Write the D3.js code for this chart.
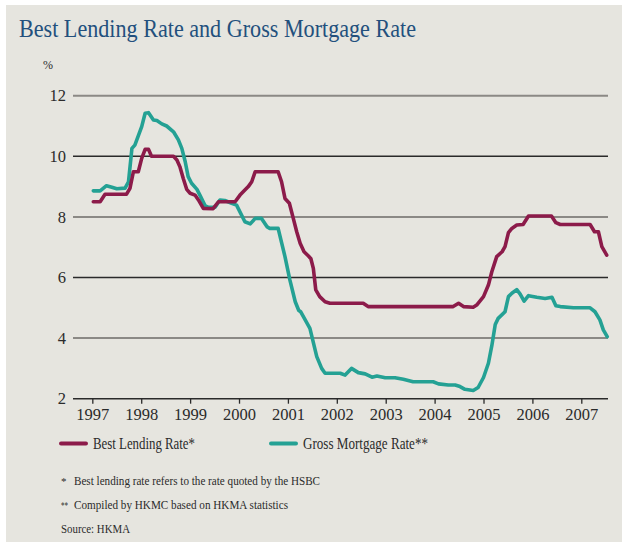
<!DOCTYPE html>
<html>
<head>
<meta charset="utf-8">
<script src="https://cdn.jsdelivr.net/npm/d3@7"></script>
<style>
  html, body { margin: 0; padding: 0; background: #ffffff; }
  svg { display: block; }
  text { font-family: "Liberation Serif", "DejaVu Serif", serif; }
</style>
</head>
<body>
<svg id="chart" width="622" height="542"></svg>
<script>
// ---- Data ----
const titleText = "Best Lending Rate and Gross Mortgage Rate";
const yearTicks = [1997, 1998, 1999, 2000, 2001, 2002, 2003, 2004, 2005, 2006, 2007];
const rateTicks = [2, 4, 6, 8, 10, 12];
const seriesNames = ["Best Lending Rate*", "Gross Mortgage Rate**"];
const footnotes = [
  ["*", "Best lending rate refers to the rate quoted by the HSBC"],
  ["**", "Compiled by HKMC based on HKMA statistics"]
];
const sourceText = "Source: HKMA";

const blrYears = [1997.02, 1997.16, 1997.26, 1997.70, 1997.77, 1997.84, 1997.94, 1998.01, 1998.08, 1998.15,
  1998.21, 1998.66, 1998.73, 1998.79, 1998.86, 1998.93, 1999.00, 1999.10, 1999.17, 1999.27,
  1999.47, 1999.58, 1999.92, 2000.02, 2000.19, 2000.26, 2000.33, 2000.80, 2000.87, 2000.94,
  2001.03, 2001.11, 2001.18, 2001.25, 2001.33, 2001.42, 2001.47, 2001.52, 2001.57, 2001.65,
  2001.76, 2001.86, 2002.54, 2002.64, 2004.38, 2004.49, 2004.59, 2004.79, 2004.86, 2005.00,
  2005.10, 2005.17, 2005.27, 2005.38, 2005.44, 2005.51, 2005.58, 2005.68, 2005.81, 2005.92,
  2006.39, 2006.48, 2006.57, 2007.18, 2007.27, 2007.35, 2007.42, 2007.52];
const blrRates = [8.50, 8.50, 8.75, 8.75, 8.94, 9.49, 9.49, 9.93, 10.23, 10.23,
  10.00, 10.00, 9.88, 9.66, 9.27, 8.91, 8.78, 8.72, 8.56, 8.28,
  8.27, 8.50, 8.50, 8.72, 9.00, 9.16, 9.49, 9.49, 9.16, 8.61,
  8.45, 7.95, 7.51, 7.13, 6.85, 6.71, 6.62, 6.30, 5.59, 5.37,
  5.20, 5.15, 5.15, 5.04, 5.04, 5.15, 5.04, 5.02, 5.09, 5.37,
  5.75, 6.19, 6.69, 6.85, 7.02, 7.48, 7.62, 7.73, 7.75, 8.03,
  8.03, 7.81, 7.75, 7.75, 7.51, 7.51, 7.02, 6.74];

const gmrYears = [1997.02, 1997.16, 1997.29, 1997.40, 1997.50, 1997.67, 1997.74, 1997.81, 1997.87, 1998.01,
  1998.08, 1998.15, 1998.25, 1998.32, 1998.42, 1998.52, 1998.66, 1998.76, 1998.83, 1998.90,
  1998.96, 1999.03, 1999.14, 1999.20, 1999.31, 1999.37, 1999.51, 1999.61, 1999.71, 1999.85,
  1999.95, 2000.12, 2000.23, 2000.33, 2000.46, 2000.57, 2000.63, 2000.80, 2000.94, 2001.04,
  2001.15, 2001.22, 2001.26, 2001.45, 2001.59, 2001.69, 2001.76, 2002.07, 2002.17, 2002.30,
  2002.44, 2002.58, 2002.72, 2002.82, 2002.99, 2003.19, 2003.36, 2003.56, 2003.97, 2004.08,
  2004.28, 2004.42, 2004.52, 2004.62, 2004.79, 2004.89, 2005.00, 2005.10, 2005.17, 2005.24,
  2005.30, 2005.44, 2005.51, 2005.58, 2005.68, 2005.75, 2005.83, 2005.92, 2006.09, 2006.26,
  2006.40, 2006.48, 2006.57, 2006.84, 2007.18, 2007.28, 2007.38, 2007.45, 2007.53];
const gmrRates = [8.86, 8.86, 9.03, 8.98, 8.93, 8.95, 9.16, 10.26, 10.37, 10.98,
  11.42, 11.44, 11.20, 11.18, 11.07, 11.00, 10.81, 10.54, 10.26, 9.82,
  9.33, 9.11, 8.91, 8.72, 8.36, 8.32, 8.32, 8.56, 8.54, 8.45,
  8.39, 7.84, 7.77, 7.95, 7.95, 7.68, 7.62, 7.62, 6.69, 5.92,
  5.20, 4.92, 4.87, 4.32, 3.39, 3.00, 2.84, 2.84, 2.78, 3.00,
  2.86, 2.82, 2.71, 2.75, 2.69, 2.69, 2.64, 2.56, 2.56, 2.49,
  2.45, 2.45, 2.40, 2.31, 2.27, 2.37, 2.70, 3.17, 3.75, 4.45,
  4.65, 4.87, 5.37, 5.48, 5.60, 5.45, 5.22, 5.40, 5.35, 5.31,
  5.35, 5.07, 5.04, 5.00, 5.00, 4.87, 4.60, 4.27, 4.05];

// ---- Styles ----
const COL_BLR = "#8c1b4a";
const COL_GMR = "#24a194";
const COL_BG = "#e6e5df";
const COL_TITLE = "#23507d";
const COL_TEXT = "#2b2b2b";

const svg = d3.select("#chart");

svg.append("rect").attr("x", 6).attr("y", 5).attr("width", 616).attr("height", 537).attr("fill", COL_BG);

function fitText(sel, w) {
  const len = sel.node().getComputedTextLength();
  if (Math.abs(len - w) > 1) {
    sel.attr("textLength", w).attr("lengthAdjust", "spacingAndGlyphs");
  }
}

// Title
const title = svg.append("text")
  .attr("x", 19).attr("y", 37)
  .attr("fill", COL_TITLE)
  .style("font-size", "26px")
  .text(titleText);
fitText(title, 397);

const x = d3.scaleLinear().domain([1996.605, 2007.546]).range([73, 608]);
const y = d3.scaleLinear().domain([2, 12]).range([398.7, 95.7]);

// Grid lines
const grid = svg.append("g");
grid.selectAll("line").data(rateTicks).join("line")
  .attr("x1", x.range()[0]).attr("x2", x.range()[1])
  .attr("y1", d => y(d)).attr("y2", d => y(d))
  .attr("stroke", d => (d % 4 === 0) ? "#8b8985" : "#2a2a2a")
  .attr("stroke-width", d => (d % 4 === 0) ? 2 : 1.4);

// Y axis labels
const yAxis = d3.axisLeft(y).tickValues(rateTicks).tickSize(0).tickPadding(0).tickFormat(d3.format("d"));
const gy = svg.append("g").attr("transform", "translate(66,0)").call(yAxis);
gy.select(".domain").remove();
gy.selectAll("text").attr("fill", COL_TEXT).style("font-size", "16.5px").style("font-family", "'Liberation Serif', serif");

svg.append("text").attr("x", 43).attr("y", 69).attr("fill", COL_TEXT)
  .style("font-size", "12px").text("%");

// X axis
const xAxis = d3.axisBottom(x).tickValues(yearTicks).tickSize(5).tickPadding(5).tickFormat(d3.format("d"));
const gx = svg.append("g").attr("transform", `translate(0,${y(2)})`).call(xAxis);
gx.select(".domain").remove();
gx.selectAll(".tick line").attr("stroke", "#2a2a2a").attr("stroke-width", 1.3);
gx.selectAll("text").attr("fill", COL_TEXT).style("font-size", "16.5px").style("font-family", "'Liberation Serif', serif");

// Lines
const line = d3.line().x(d => x(d[0])).y(d => y(d[1])).curve(d3.curveLinear);
const gmrData = gmrYears.map((t, i) => [t, gmrRates[i]]);
const blrData = blrYears.map((t, i) => [t, blrRates[i]]);

svg.append("path").datum(gmrData).attr("d", line)
  .attr("fill", "none").attr("stroke", COL_GMR).attr("stroke-width", 3.6)
  .attr("stroke-linejoin", "round").attr("stroke-linecap", "round");
svg.append("path").datum(blrData).attr("d", line)
  .attr("fill", "none").attr("stroke", COL_BLR).attr("stroke-width", 3.6)
  .attr("stroke-linejoin", "round").attr("stroke-linecap", "round");

// Legend
const legend = [
  { name: seriesNames[0], color: COL_BLR, x0: 61, tx: 93, w: 102 },
  { name: seriesNames[1], color: COL_GMR, x0: 271, tx: 303, w: 125 }
];
legend.forEach(l => {
  svg.append("line").attr("x1", l.x0).attr("x2", l.x0 + 25)
    .attr("y1", 443.5).attr("y2", 443.5)
    .attr("stroke", l.color).attr("stroke-width", 4).attr("stroke-linecap", "round");
  const t = svg.append("text").attr("x", l.tx).attr("y", 449).attr("fill", COL_TEXT)
    .style("font-size", "16px").text(l.name);
  fitText(t, l.w);
});

// Footnotes
const fnY = [485, 509];
const fnW = [246, 214];
footnotes.forEach((f, i) => {
  const a = svg.append("text").attr("x", 61).attr("y", fnY[i]).attr("fill", COL_TEXT)
    .style("font-size", "11px").text(f[0]);
  if (f[0].length > 1) fitText(a, 7);
  const t = svg.append("text").attr("x", 74).attr("y", fnY[i]).attr("fill", COL_TEXT)
    .style("font-size", "13.5px").text(f[1]);
  fitText(t, fnW[i]);
});
const src = svg.append("text").attr("x", 61).attr("y", 533).attr("fill", COL_TEXT)
  .style("font-size", "13.5px").text(sourceText);
fitText(src, 69);
</script>
</body>
</html>
